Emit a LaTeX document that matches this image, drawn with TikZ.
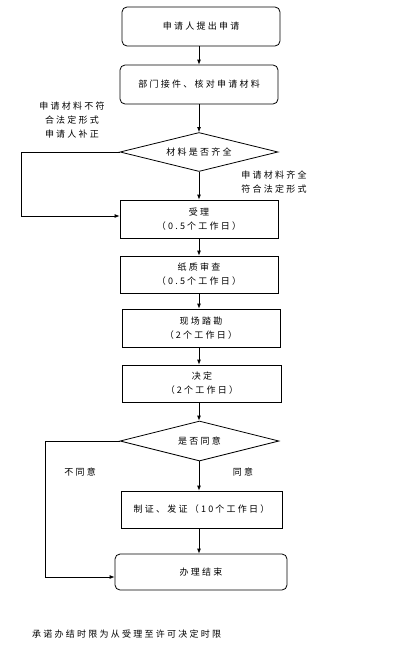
\documentclass[tikz,border=0pt]{standalone}
\usepackage{fontspec}
\newfontfamily\cjkfont[LetterSpace=25]{Noto Sans CJK SC}
\usetikzlibrary{shapes.geometric,arrows.meta}
\tikzset{
  txt/.style={font=\cjkfont\fontsize{9}{14}\selectfont, align=center, inner sep=0pt},
  rbox/.style={txt, draw, line width=0.8pt, rounded corners=5pt},
  sbox/.style={txt, draw, line width=0.8pt},
  dbox/.style={txt, draw, line width=0.8pt, diamond, aspect=4},
  arr/.style={line width=0.8pt, -{Latex[length=5pt,width=4pt]}},
}
\begin{document}
\begin{tikzpicture}[x=1pt,y=-1pt]
\useasboundingbox (0,0) rectangle (406,653);
\node[rbox, minimum width=158pt, minimum height=39pt] (b1) at (201,26.5) {申请人提出申请};
\node[rbox, minimum width=158pt, minimum height=39pt] (b2) at (199,84.5) {部门接件、核对申请材料};
\node[dbox, minimum width=158pt, minimum height=39pt] (d1) at (199,152) {材料是否齐全};
\node[sbox, minimum width=158pt, minimum height=38pt] (b3) at (199,219) {受理\\（0.5个工作日）};
\node[sbox, minimum width=158pt, minimum height=37pt] (b4) at (199,274.5) {纸质审查\\（0.5个工作日）};
\node[sbox, minimum width=158pt, minimum height=38pt] (b5) at (201,328) {现场踏勘\\（2个工作日）};
\node[sbox, minimum width=159pt, minimum height=37pt] (b6) at (202,383.5) {决定\\（2个工作日）};
\node[dbox, minimum width=159pt, minimum height=40pt] (d2) at (199.5,441) {是否同意};
\node[sbox, minimum width=161pt, minimum height=37pt] (b7) at (201.5,509.5) {制证、发证（10个工作日）};
\node[rbox, minimum width=172pt, minimum height=36pt] (b8) at (201,572) {办理结束};

\node[txt] (l1) at (72,120.5) {申请材料不符\\合法定形式\\申请人补正};
\node[txt] (l2) at (274,182.5) {申请材料齐全\\符合法定形式};
\node[txt] (l3) at (80,472) {不同意};
\node[txt] (l4) at (243,472) {同意};
\node[txt, anchor=west] (ft) at (32,634) {承诺办结时限为从受理至许可决定时限};

\coordinate (c1) at (21,152);
\coordinate (c2) at (45,441);

\draw[arr] (b1.south -| d1) -- (b2.north -| d1);
\draw[arr] (b2.south -| d1) -- (d1.north);
\draw[arr] (d1.south) -- (b3.north -| d1);
\draw[arr] (b3.south -| d1) -- (b4.north -| d1);
\draw[arr] (b4.south -| d1) -- (b5.north -| d1);
\draw[arr] (b5.south -| d1) -- (b6.north -| d1);
\draw[arr] (b6.south -| d1) -- (d2.north -| d1);
\draw[arr] (d2.south -| d1) -- (b7.north -| d1);
\draw[arr] (b7.south -| d1) -- (b8.north -| d1);
\draw[arr] (d1.west) -- (c1) |- ([yshift=3pt]b3.west);
\draw[arr] (d2.west) -- (c2) |- ([yshift=-5pt]b8.west);
\end{tikzpicture}
\end{document}
